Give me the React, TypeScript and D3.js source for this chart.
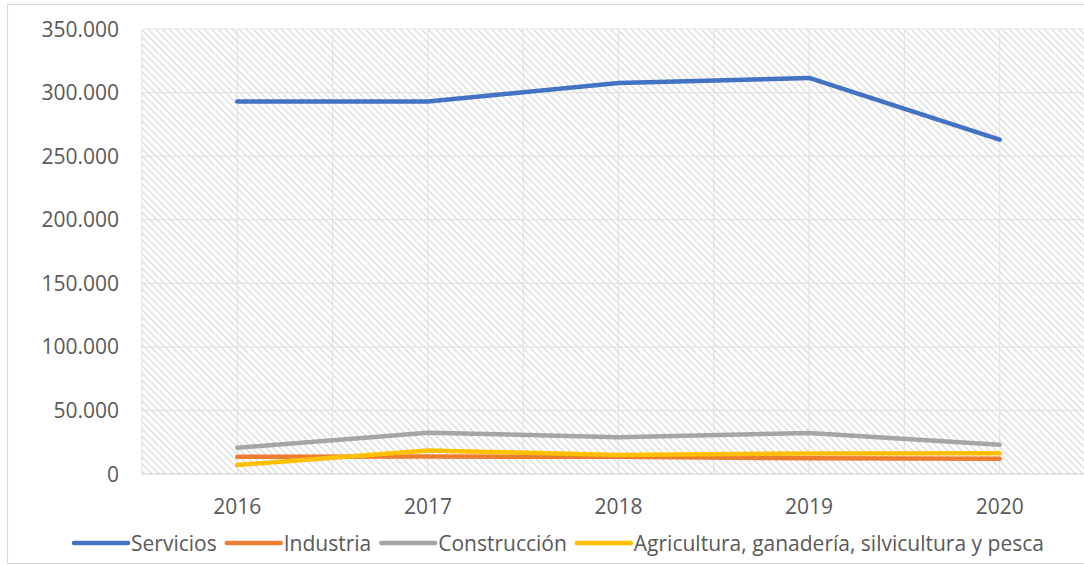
import React, { useRef, useEffect } from "react";
import * as d3 from "d3";

const years = ["2016", "2017", "2018", "2019", "2020"];
const seriesNames = [
  "Servicios",
  "Industria",
  "Construcción",
  "Agricultura, ganadería, silvicultura y pesca",
];
const servicios = [293000, 293000, 307500, 311500, 263000];
const industria = [13600, 13700, 13600, 12300, 12000];
const construccion = [20600, 32500, 29000, 32200, 23000];
const agricultura = [7100, 18500, 15000, 16200, 16300];
const yTicks = [0, 50000, 100000, 150000, 200000, 250000, 300000, 350000];

const colors = ["#4472C4", "#ED7D31", "#A5A5A5", "#FFC000"];
const allSeries = [servicios, industria, construccion, agricultura];

const W = 1084;
const H = 565;
const FONT = "'Open Sans', 'Liberation Sans', sans-serif";
const FS = "21px";

const fmt = (v: number) =>
  v === 0 ? "0" : d3.format(",.0f")(v).replace(/,/g, ".");

const App: React.FC = () => {
  const svgRef = useRef<SVGSVGElement | null>(null);

  useEffect(() => {
    const svg = d3.select(svgRef.current);
    svg.selectAll("*").remove();
    svg.attr("width", W).attr("height", H);

    const left = 142;
    const top = 29;
    const bottom = 474;
    const catStep = 190.6;
    const right = left + catStep * years.length;

    // hatch pattern for plot background
    const defs = svg.append("defs");
    const pat = defs
      .append("pattern")
      .attr("id", "hatch")
      .attr("patternUnits", "userSpaceOnUse")
      .attr("width", 7)
      .attr("height", 7);
    pat.append("rect").attr("width", 7).attr("height", 7).attr("fill", "#fff");
    pat
      .append("path")
      .attr("d", "M-1,-1 L8,8 M-1,6 L1,8 M6,-1 L8,1")
      .attr("stroke", "#dcdcdc")
      .attr("stroke-width", 1.3);

    // outer chart border
    svg
      .append("rect")
      .attr("x", 7.5)
      .attr("y", 4.5)
      .attr("width", 1100)
      .attr("height", 559)
      .attr("fill", "#fff")
      .attr("stroke", "#d9d9d9")
      .attr("stroke-width", 1.2);

    const x = d3
      .scaleBand<string>()
      .domain(years)
      .range([left, right])
      .paddingInner(0)
      .paddingOuter(0);
    const y = d3.scaleLinear().domain([0, 350000]).range([bottom, top]);

    svg
      .append("rect")
      .attr("x", left)
      .attr("y", top)
      .attr("width", right - left)
      .attr("height", bottom - top)
      .attr("fill", "url(#hatch)");

    // vertical gridlines at category boundaries and centers
    const vLines: number[] = [];
    years.forEach((yr) => {
      vLines.push(x(yr)!);
      vLines.push(x(yr)! + x.bandwidth() / 2);
    });
    vLines.push(right);
    svg
      .append("g")
      .selectAll("line")
      .data(vLines)
      .enter()
      .append("line")
      .attr("x1", (d) => d)
      .attr("x2", (d) => d)
      .attr("y1", top)
      .attr("y2", bottom)
      .attr("stroke", "#e3e3e3")
      .attr("stroke-width", 1.2);

    // horizontal gridlines
    svg
      .append("g")
      .selectAll("line")
      .data(yTicks)
      .enter()
      .append("line")
      .attr("x1", left)
      .attr("x2", right)
      .attr("y1", (d) => y(d))
      .attr("y2", (d) => y(d))
      .attr("stroke", (d) => (d === 0 ? "#d9d9d9" : "#e3e3e3"))
      .attr("stroke-width", (d) => (d === 0 ? 1.5 : 1.2));

    // y tick labels
    svg
      .append("g")
      .selectAll("text")
      .data(yTicks)
      .enter()
      .append("text")
      .attr("x", 119)
      .attr("y", (d) => y(d) + 7.5)
      .attr("text-anchor", "end")
      .attr("fill", "#595959")
      .style("font-family", FONT)
      .style("font-size", FS)
      .text((d) => fmt(d));

    // x tick labels
    svg
      .append("g")
      .selectAll("text")
      .data(years)
      .enter()
      .append("text")
      .attr("x", (d) => x(d)! + x.bandwidth() / 2)
      .attr("y", 514)
      .attr("text-anchor", "middle")
      .attr("fill", "#595959")
      .style("font-family", FONT)
      .style("font-size", FS)
      .text((d) => d);

    // lines
    const line = d3
      .line<number>()
      .x((_, i) => x(years[i])! + x.bandwidth() / 2)
      .y((d) => y(d));

    allSeries.forEach((vals, i) => {
      svg
        .append("path")
        .datum(vals)
        .attr("fill", "none")
        .attr("stroke", colors[i])
        .attr("stroke-width", 4.5)
        .attr("stroke-linejoin", "round")
        .attr("stroke-linecap", "round")
        .attr("d", line);
    });

    // legend
    const legend = svg.append("g").attr("transform", "translate(0,543)");
    let cx = 74;
    seriesNames.forEach((name, i) => {
      legend
        .append("line")
        .attr("x1", cx)
        .attr("x2", cx + 54)
        .attr("y1", 0)
        .attr("y2", 0)
        .attr("stroke", colors[i])
        .attr("stroke-width", 4.5)
        .attr("stroke-linecap", "round");
      const t = legend
        .append("text")
        .attr("x", cx + 57)
        .attr("y", 7.5)
        .attr("fill", "#595959")
        .style("font-family", FONT)
        .style("font-size", FS)
        .text(name);
      const w = (t.node() as SVGTextElement).getComputedTextLength();
      cx = cx + 57 + w + 10;
    });
  }, []);

  return (
    <div style={{ position: "absolute", left: 0, top: 0, width: W, height: H, overflow: "hidden" }}>
      <svg ref={svgRef} style={{ display: "block" }}></svg>
    </div>
  );
};

export default App;
